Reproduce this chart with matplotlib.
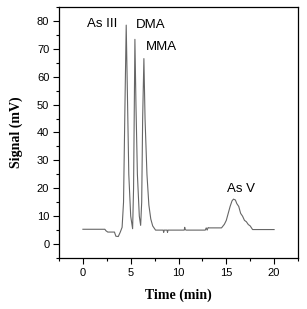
import matplotlib.pyplot as plt
from matplotlib.ticker import MultipleLocator

# Chromatogram points
time = [0, 2.3, 2.4, 2.6, 3.3, 3.45, 3.7, 3.9, 4.1, 4.25, 4.4, 4.53, 4.65,
        4.8, 5.0, 5.2, 5.3, 5.44, 5.55, 5.7, 5.9, 6.04, 6.15, 6.25, 6.38,
        6.5, 6.7, 6.9, 7.1, 7.3, 7.6, 8.4, 8.45, 8.5, 8.8, 8.85, 8.9,
        10.6, 10.65, 10.7, 10.8, 12.8, 12.9, 13.0, 13.1, 13.2, 14.5, 14.8,
        15.0, 15.2, 15.4, 15.6, 15.75, 15.95, 16.1, 16.3, 16.5, 16.7,
        16.9, 17.1, 17.3, 17.5, 17.75, 20]
signal = [5.3, 5.3, 4.8, 4.3, 4.3, 2.8, 2.7, 4.2, 6, 15, 50, 78.5, 55,
          25, 10, 5.5, 20, 73.4, 50, 25, 10, 6.7, 15, 45, 66.5,
          45, 25, 14, 9, 6.5, 5.0, 5.0, 4.2, 5.0, 5.0, 4.2, 5.0,
          5.0, 6.0, 5.2, 5.0, 5.0, 5.8, 5.0, 5.9, 5.8, 5.8, 7.1,
          8.5, 11, 13.5, 15.5, 16.1, 15.8, 14.5, 13.5, 11, 10,
          8.5, 8, 7, 6.5, 5.2, 5.2]

peak_names = ['As III', 'DMA', 'MMA', 'As V']
label_x = [2.0, 7.05, 8.2, 16.5]
label_y = [79, 78.6, 70.7, 19.9]

fig = plt.figure(figsize=(3.07, 3.09), dpi=100)
ax = fig.add_axes([59 / 307, 51 / 309, 239 / 307, 251 / 309])

ax.plot(time, signal, color='#666666', linewidth=0.8)

for name, x, y in zip(peak_names, label_x, label_y):
    ax.text(x, y, name, ha='center', va='center', fontsize=9.5,
            family='Liberation Sans')

ax.set_xlim(-2.5, 22.5)
ax.set_ylim(-5, 85)
ax.xaxis.set_major_locator(MultipleLocator(5))
ax.xaxis.set_minor_locator(MultipleLocator(2.5))
ax.yaxis.set_major_locator(MultipleLocator(10))
ax.yaxis.set_minor_locator(MultipleLocator(5))
ax.tick_params(which='major', direction='out', length=4, width=0.8,
               labelsize=8, pad=3)
ax.tick_params(which='minor', direction='out', length=2, width=0.8)
for lab in ax.get_xticklabels() + ax.get_yticklabels():
    lab.set_family('Liberation Sans')
for sp in ax.spines.values():
    sp.set_linewidth(0.9)

ax.set_xlabel('Time (min)', fontsize=10, fontweight='bold',
              family='Liberation Serif', labelpad=8)
ax.set_ylabel('Signal (mV)', fontsize=10, fontweight='bold',
              family='Liberation Serif', labelpad=10)

plt.savefig('out.png', dpi=100)
